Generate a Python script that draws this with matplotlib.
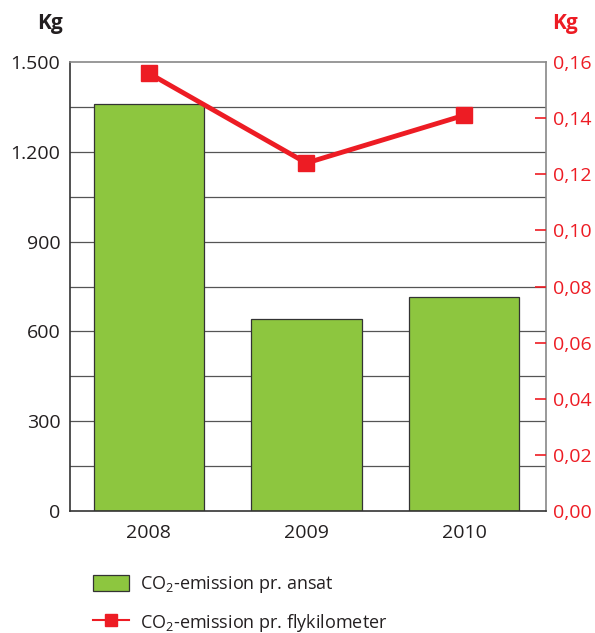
import matplotlib.pyplot as plt
from matplotlib.patches import Patch
from matplotlib.lines import Line2D

plt.rcParams['font.family'] = ['Open Sans', 'DejaVu Sans']
plt.rcParams['mathtext.default'] = 'regular'

# data
years = ["2008", "2009", "2010"]
per_ansat = [1360, 640, 715]            # kg CO2 per ansat
per_flykm = [0.156, 0.124, 0.141]       # kg CO2 per flykilometer
left_ticks = [0, 300, 600, 900, 1200, 1500]
left_labels = ["0", "300", "600", "900", "1.200", "1.500"]
right_ticks = [0.00, 0.02, 0.04, 0.06, 0.08, 0.10, 0.12, 0.14, 0.16]
right_labels = ["0,00", "0,02", "0,04", "0,06", "0,08", "0,10", "0,12", "0,14", "0,16"]

green = "#8dc63f"
red = "#ed1c24"
dark = "#231f20"

fig = plt.figure(figsize=(5.95, 6.33), dpi=100)
ax = fig.add_axes([70/595, 1 - 511/633, 476/595, 449/633])

x = list(range(len(years)))
ax.set_xlim(-0.5, 2.52)
ax.set_ylim(0, 1500)

# gridlines every 150 behind the bars
for v in range(150, 1500, 150):
    ax.axhline(v, color="#555555", lw=0.9, zorder=1)

ax.bar(x, per_ansat, width=0.7, color=green, edgecolor="#333333", lw=0.9, zorder=2)

ax.set_yticks(left_ticks)
ax.set_yticklabels(left_labels)
ax.set_xticks(x)
ax.set_xticklabels(years)
ax.tick_params(axis="y", length=0, pad=7, labelsize=14, labelcolor=dark)
ax.tick_params(axis="x", length=0, pad=9, labelsize=14, labelcolor=dark)

ax.spines["left"].set_color("#333333")
ax.spines["bottom"].set_color("#333333")
ax.spines["top"].set_color("#888888")
ax.spines["right"].set_color("#888888")
for s in ax.spines.values():
    s.set_linewidth(1.2)

ax2 = ax.twinx()
ax2.set_ylim(0, 0.16)
ax2.plot(x, per_flykm, color=red, lw=3.5, marker="s", markersize=12, zorder=5)
ax2.set_yticks(right_ticks)
ax2.set_yticklabels(right_labels)
ax2.tick_params(axis="y", direction="in", length=8, width=1.2, color=red,
                labelcolor=red, labelsize=14, pad=5)
# no red marks at the frame corners
ticks = ax2.yaxis.get_major_ticks()
for t in (ticks[0], ticks[-1]):
    t.tick1line.set_visible(False)
    t.tick2line.set_visible(False)
for s in ax2.spines.values():
    s.set_visible(False)

fig.text(37/595, 1 - 24/633, "Kg", fontsize=15, fontweight="bold", color=dark, va="center")
fig.text(552/595, 1 - 24/633, "Kg", fontsize=15, fontweight="bold", color=red, va="center")

handles = [
    Patch(facecolor=green, edgecolor="#333333", lw=0.9),
    Line2D([], [], color=red, lw=1.5, marker="s", markersize=9),
]
labels = ["CO$_2$-emission pr. ansat", "CO$_2$-emission pr. flykilometer"]
fig.legend(handles, labels, loc="upper left", bbox_to_anchor=(77/595, 1 - 558/633),
           frameon=False, fontsize=13, handlelength=2.0, handleheight=1.0,
           handletextpad=0.6, labelspacing=0.9, labelcolor=dark)

fig.savefig("out.png", dpi=100)
